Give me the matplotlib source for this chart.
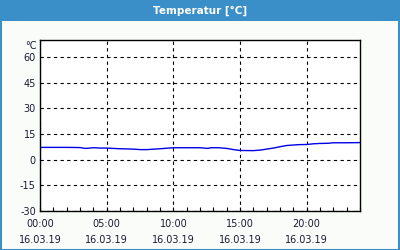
import matplotlib
matplotlib.use("Agg")
import matplotlib.pyplot as plt
from matplotlib.patches import Rectangle

title = "Temperatur [°C]"
unit = "°C"
hours = [0, 1, 2, 3, 3.4, 3.6, 4, 4.5, 5, 6, 7, 7.5, 8, 9, 10, 11, 12, 12.6, 12.8, 13.4, 14, 14.6, 15, 16, 16.6, 17, 17.5, 18, 18.5, 19.4, 20, 20.5, 21, 21.6, 22, 23, 24]
temps = [7.2, 7.2, 7.2, 7.1, 6.6, 6.7, 7.0, 6.8, 6.8, 6.4, 6.2, 5.9, 5.9, 6.4, 7.0, 7.0, 7.0, 6.6, 7.0, 7.0, 6.6, 5.8, 5.4, 5.3, 5.7, 6.2, 6.8, 7.6, 8.3, 8.8, 8.9, 9.3, 9.5, 9.6, 9.9, 9.9, 10.0]
x_ticks = [0, 5, 10, 15, 20]
x_labels = ["00:00\n16.03.19", "05:00\n16.03.19", "10:00\n16.03.19", "15:00\n16.03.19", "20:00\n16.03.19"]
y_ticks = [-30, -15, 0, 15, 30, 45, 60]

W, H = 400, 250
fig = plt.figure(figsize=(4, 2.5), dpi=100)
fig.patch.set_facecolor("#fafcfa")

# title bar
fig.add_artist(Rectangle((0, 1 - 21 / H), 1, 21 / H, transform=fig.transFigure,
                         facecolor="#3a8fc8", edgecolor="none", zorder=0))
fig.add_artist(Rectangle((0.5 / W, 0.5 / H), 1 - 1.5 / W, 1 - 1 / H, transform=fig.transFigure,
                         facecolor="none", edgecolor="#3a8fc8", lw=1.5, zorder=5))
fig.text(0.5, 1 - 10.5 / H, title, color="white", fontweight="bold", fontsize=7.5,
         ha="center", va="center", family="DejaVu Sans")

ax = fig.add_axes([40 / W, 1 - 211 / H, 320 / W, 171 / H])
ax.set_facecolor("white")
ax.plot(hours, temps, color="#0000e6", lw=1.0)
ax.set_xlim(0, 24)
ax.set_ylim(-30, 70)
ax.set_xticks(x_ticks)
ax.set_xticklabels(x_labels, fontsize=7, linespacing=1.65)
ax.set_xticks(range(0, 25), minor=True)
ax.set_yticks(y_ticks)
ax.set_yticklabels([str(v) for v in y_ticks], fontsize=7)
ax.tick_params(axis="x", which="both", direction="in", length=3, width=0.8, pad=6, colors="black")
ax.tick_params(axis="y", which="both", length=0, pad=3)
for lab in ax.get_xticklabels() + ax.get_yticklabels():
    lab.set_color("#1a1a30")
ax.grid(True, which="major", color="black", ls=(0, (3, 3)), lw=0.8)
for s in ax.spines.values():
    s.set_linewidth(1.0)
    s.set_color("black")
ax.text(-0.0094, 66.5, unit, transform=ax.get_yaxis_transform(), ha="right", va="center",
        fontsize=7, color="#1a1a30")

fig.savefig("out.png", dpi=100, facecolor=fig.get_facecolor())
